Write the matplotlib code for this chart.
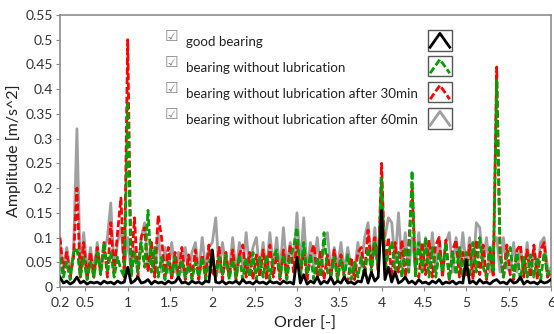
import numpy as np
import matplotlib
matplotlib.use("Agg")
import matplotlib.pyplot as plt
from matplotlib.lines import Line2D
from matplotlib.patches import Rectangle

plt.rcParams['font.family'] = ['Lato', 'DejaVu Sans']

# order axis, 0.04 spacing from 0.2 to 6.0
order = np.round(np.arange(146) * 0.04 + 0.2, 2)

good = [0.02, 0.008, 0.012, 0.006, 0.01, 0.02, 0.008, 0.012, 0.006, 0.01,
        0.008, 0.01, 0.006, 0.012, 0.008, 0.01, 0.006, 0.012, 0.008, 0.01,
        0.04, 0.008, 0.012, 0.02, 0.008, 0.01, 0.015, 0.006, 0.012, 0.008,
        0.01, 0.006, 0.012, 0.008, 0.01, 0.02, 0.008, 0.01, 0.006, 0.012,
        0.008, 0.01, 0.006, 0.012, 0.01, 0.075, 0.01, 0.008, 0.012, 0.006,
        0.01, 0.008, 0.012, 0.006, 0.015, 0.008, 0.01, 0.006, 0.012, 0.008,
        0.01, 0.006, 0.012, 0.008, 0.01, 0.006, 0.012, 0.008, 0.01, 0.006,
        0.06, 0.008, 0.025, 0.006, 0.012, 0.008, 0.02, 0.006, 0.012, 0.008,
        0.02, 0.006, 0.012, 0.008, 0.02, 0.008, 0.01, 0.006, 0.012, 0.01,
        0.035, 0.008, 0.03, 0.012, 0.02, 0.155, 0.015, 0.04, 0.01, 0.03,
        0.008, 0.012, 0.02, 0.008, 0.012, 0.006, 0.015, 0.008, 0.01, 0.006,
        0.012, 0.008, 0.015, 0.006, 0.01, 0.008, 0.012, 0.006, 0.01, 0.008,
        0.055, 0.008, 0.012, 0.006, 0.015, 0.008, 0.01, 0.006, 0.012, 0.015,
        0.008, 0.01, 0.006, 0.015, 0.008, 0.01, 0.02, 0.006, 0.012, 0.008,
        0.01, 0.006, 0.012, 0.008, 0.01, 0.015]

no_lube = [0.06, 0.02, 0.05, 0.015, 0.07, 0.08, 0.02, 0.06, 0.015, 0.05,
           0.02, 0.07, 0.025, 0.09, 0.03, 0.07, 0.02, 0.06, 0.035, 0.02,
           0.375, 0.02, 0.07, 0.03, 0.09, 0.04, 0.155, 0.03, 0.08, 0.02,
           0.06, 0.015, 0.05, 0.025, 0.06, 0.015, 0.055, 0.02, 0.045, 0.015,
           0.05, 0.02, 0.06, 0.015, 0.05, 0.065, 0.02, 0.06, 0.025, 0.065,
           0.015, 0.055, 0.02, 0.065, 0.015, 0.06, 0.02, 0.07, 0.015, 0.06,
           0.02, 0.065, 0.015, 0.06, 0.075, 0.02, 0.065, 0.015, 0.06, 0.08,
           0.12, 0.02, 0.09, 0.025, 0.065, 0.015, 0.06, 0.02, 0.11, 0.03,
           0.02, 0.06, 0.015, 0.055, 0.02, 0.065, 0.015, 0.05, 0.02, 0.06,
           0.02, 0.08, 0.03, 0.09, 0.04, 0.22, 0.03, 0.07, 0.09, 0.03,
           0.07, 0.02, 0.08, 0.03, 0.235, 0.02, 0.09, 0.03, 0.10, 0.02,
           0.08, 0.02, 0.07, 0.03, 0.09, 0.015, 0.07, 0.025, 0.08, 0.02,
           0.07, 0.02, 0.09, 0.03, 0.10, 0.04, 0.02, 0.08, 0.03, 0.42,
           0.07, 0.02, 0.06, 0.08, 0.02, 0.07, 0.015, 0.06, 0.02, 0.065,
           0.02, 0.06, 0.015, 0.07, 0.025, 0.04]

no_lube_30 = [0.10, 0.03, 0.07, 0.02, 0.06, 0.20, 0.02, 0.09, 0.015, 0.07,
              0.02, 0.08, 0.03, 0.09, 0.02, 0.13, 0.03, 0.11, 0.18, 0.02,
              0.50, 0.03, 0.14, 0.02, 0.10, 0.12, 0.03, 0.09, 0.02, 0.145,
              0.10, 0.02, 0.08, 0.015, 0.07, 0.02, 0.08, 0.015, 0.065, 0.02,
              0.075, 0.015, 0.065, 0.02, 0.085, 0.03, 0.02, 0.08, 0.015, 0.07,
              0.02, 0.075, 0.015, 0.065, 0.085, 0.02, 0.07, 0.015, 0.065, 0.02,
              0.075, 0.015, 0.085, 0.02, 0.065, 0.015, 0.075, 0.02, 0.085, 0.03,
              0.09, 0.02, 0.075, 0.015, 0.065, 0.085, 0.02, 0.075, 0.015, 0.065,
              0.02, 0.075, 0.015, 0.065, 0.02, 0.01, 0.06, 0.015, 0.07, 0.08,
              0.03, 0.115, 0.04, 0.10, 0.03, 0.25, 0.04, 0.10, 0.02, 0.09,
              0.03, 0.095, 0.02, 0.085, 0.20, 0.03, 0.02, 0.09, 0.025, 0.095,
              0.02, 0.085, 0.10, 0.02, 0.095, 0.015, 0.075, 0.095, 0.02, 0.07,
              0.02, 0.085, 0.015, 0.095, 0.025, 0.085, 0.015, 0.075, 0.02, 0.445,
              0.07, 0.02, 0.085, 0.025, 0.015, 0.075, 0.085, 0.02, 0.075, 0.02,
              0.085, 0.015, 0.075, 0.09, 0.02, 0.03]

no_lube_60 = [0.09, 0.04, 0.08, 0.03, 0.07, 0.32, 0.03, 0.11, 0.03, 0.08,
              0.03, 0.09, 0.03, 0.07, 0.10, 0.17, 0.03, 0.09, 0.12, 0.04,
              0.10, 0.03, 0.08, 0.03, 0.10, 0.13, 0.04, 0.09, 0.03, 0.11,
              0.03, 0.08, 0.03, 0.09, 0.03, 0.07, 0.03, 0.08, 0.03, 0.07,
              0.09, 0.03, 0.10, 0.04, 0.08, 0.09, 0.14, 0.03, 0.09, 0.04,
              0.03, 0.10, 0.03, 0.09, 0.04, 0.11, 0.03, 0.08, 0.10, 0.03,
              0.09, 0.03, 0.11, 0.04, 0.10, 0.03, 0.12, 0.04, 0.09, 0.05,
              0.15, 0.04, 0.14, 0.03, 0.09, 0.04, 0.10, 0.03, 0.09, 0.11,
              0.03, 0.08, 0.04, 0.09, 0.03, 0.08, 0.04, 0.03, 0.09, 0.04,
              0.10, 0.13, 0.05, 0.12, 0.04, 0.13, 0.10, 0.14, 0.13, 0.05,
              0.15, 0.04, 0.11, 0.03, 0.10, 0.04, 0.11, 0.03, 0.10, 0.04,
              0.11, 0.03, 0.10, 0.03, 0.09, 0.11, 0.03, 0.10, 0.04, 0.11,
              0.04, 0.10, 0.03, 0.13, 0.12, 0.04, 0.10, 0.03, 0.09, 0.10,
              0.03, 0.10, 0.04, 0.03, 0.09, 0.03, 0.08, 0.03, 0.09, 0.03,
              0.08, 0.03, 0.09, 0.10, 0.04, 0.03]

labels = ['good bearing',
          'bearing without lubrication',
          'bearing without lubrication after 30min',
          'bearing without lubrication after 60min']
colors = ['black', '#00a000', '#ff0000', '#a0a0a0']
styles = ['-', (0, (2.5, 1)), (0, (2.5, 1)), '-']
series = [good, no_lube, no_lube_30, no_lube_60]

fig = plt.figure(figsize=(5.54, 3.34), dpi=100)
ax = fig.add_axes([0.1083, 0.1407, 0.886, 0.8143])

# last series drawn at the back, first one on top
for i in range(3, -1, -1):
    ax.plot(order, series[i], color=colors[i], linestyle=styles[i],
            linewidth=2.0, zorder=2 + (3 - i))

ax.set_xlim(0.2, 6)
ax.set_ylim(0, 0.55)
ax.set_xticks([0.2, 0.5, 1, 1.5, 2, 2.5, 3, 3.5, 4, 4.5, 5, 5.5, 6])
ax.set_xticklabels(['0.2', '0.5', '1', '1.5', '2', '2.5', '3', '3.5', '4',
                    '4.5', '5', '5.5', '6'])
yt = [0, 0.05, 0.1, 0.15, 0.2, 0.25, 0.3, 0.35, 0.4, 0.45, 0.5, 0.55]
ax.set_yticks(yt)
ax.set_yticklabels(['0', '0.05', '0.1', '0.15', '0.2', '0.25', '0.3',
                    '0.35', '0.4', '0.45', '0.5', '0.55'])
ax.tick_params(labelsize=10, colors='#333333', length=3, width=0.8,
               pad=2)
ax.tick_params(axis='x', pad=4)
ax.tick_params(axis='both', color='#888888')
for s in ax.spines.values():
    s.set_color('#8c8c8c')
    s.set_linewidth(1.2)

ax.set_xlabel('Order [-]', fontsize=11.5, color='#222222', labelpad=6)
ax.set_ylabel('Amplitude [m/s^2]', fontsize=11.5, color='#222222',
              labelpad=3)

# legend with check boxes and small plot icons
row_y = [0.908, 0.8125, 0.717, 0.621]
for i in range(4):
    y = row_y[i]
    ax.text(0.2265, y + 0.012, '\u2611', transform=ax.transAxes, fontsize=11,
            color='#8a8a8a', va='center', ha='center',
            family=['DejaVu Sans'], zorder=10)
    ax.text(0.256, y - 0.006, labels[i], transform=ax.transAxes,
            fontsize=9.6, color='#222222', va='center', ha='left', zorder=10)
    x0, x1 = 0.749, 0.799
    h = 0.077
    ax.add_patch(Rectangle((x0, y - h / 2), x1 - x0, h,
                           transform=ax.transAxes, facecolor='white',
                           edgecolor='#555555', linewidth=1.0, zorder=10))
    ax.add_line(Line2D([x0 + 0.005, (x0 + x1) / 2, x1 - 0.005],
                       [y - h / 2 + 0.012, y + h / 2 - 0.014, y - h / 2 + 0.012],
                       transform=ax.transAxes, color=colors[i],
                       linestyle=styles[i], linewidth=2.0, zorder=11))

fig.savefig('out.png', dpi=100)
